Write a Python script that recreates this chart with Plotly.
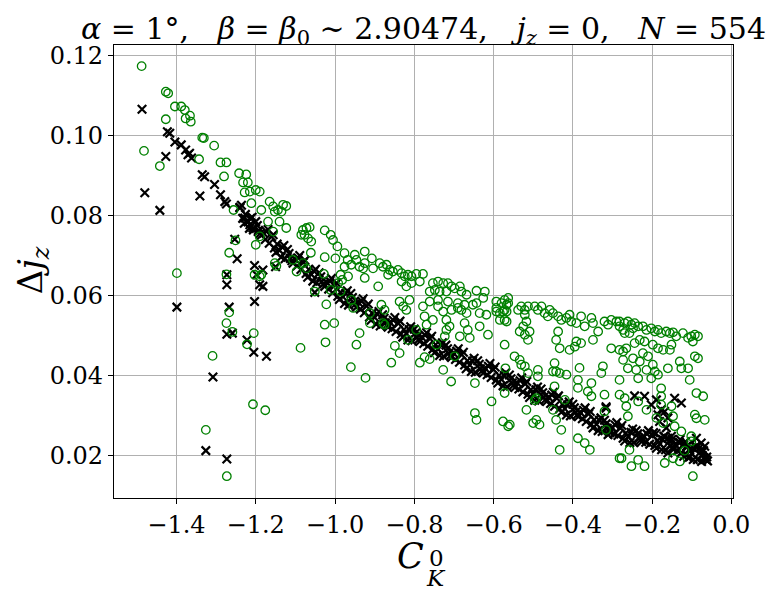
import plotly.graph_objects as go

# black crosses: dense band (read along the band) and the scattered ones
cross_band_x = [
    -1.240, -1.233, -1.226, -1.220, -1.213, -1.206, -1.200, -1.193, -1.186, -1.180, -1.173, -1.166,
    -1.160, -1.153, -1.146, -1.140, -1.133, -1.126, -1.120, -1.113, -1.106, -1.100, -1.093, -1.086,
    -1.080, -1.073, -1.066, -1.060, -1.053, -1.046, -1.040, -1.033, -1.026, -1.020, -1.013, -1.006,
    -1.000, -0.993, -0.986, -0.980, -0.973, -0.966, -0.960, -0.953, -0.946, -0.940, -0.933, -0.926,
    -0.920, -0.913, -0.906, -0.900, -0.893, -0.886, -0.880, -0.873, -0.866, -0.860, -0.853, -0.846,
    -0.840, -0.833, -0.826, -0.820, -0.813, -0.806, -0.800, -0.793, -0.786, -0.780, -0.773, -0.766,
    -0.760, -0.753, -0.746, -0.740, -0.733, -0.726, -0.720, -0.713, -0.706, -0.700, -0.693, -0.686,
    -0.680, -0.673, -0.666, -0.660, -0.653, -0.646, -0.640, -0.633, -0.626, -0.620, -0.613, -0.606,
    -0.600, -0.593, -0.586, -0.580, -0.573, -0.566, -0.560, -0.553, -0.546, -0.540, -0.533, -0.526,
    -0.520, -0.513, -0.506, -0.500, -0.493, -0.486, -0.480, -0.473, -0.466, -0.460, -0.453, -0.446,
    -0.440, -0.433, -0.426, -0.420, -0.413, -0.406, -0.400, -0.393, -0.386, -0.380, -0.373, -0.366,
    -0.360, -0.353, -0.346, -0.340, -0.333, -0.326, -0.320, -0.313, -0.306, -0.300, -0.293, -0.286,
    -0.280, -0.273, -0.266, -0.260, -0.253, -0.246, -0.240, -0.233, -0.226, -0.220, -0.213, -0.206,
    -0.200, -0.193, -0.186, -0.180, -0.173, -0.166, -0.160, -0.153, -0.146, -0.140, -0.133, -0.126,
    -0.120, -0.113, -0.106, -0.100, -0.093, -0.086, -0.080, -0.073, -0.066, -0.062, -0.060,
    -0.190, -0.170, -0.150, -0.130, -0.110, -0.090, -0.070, -0.160, -0.120, -0.085, -0.075, -0.105,
]
cross_band_y = [
    0.0821, 0.0793, 0.0803, 0.0785, 0.0793, 0.0764, 0.0785, 0.0763, 0.0751, 0.0756, 0.0760, 0.0731,
    0.0747, 0.0719, 0.0729, 0.0713, 0.0721, 0.0692, 0.0715, 0.0693, 0.0681, 0.0690, 0.0694, 0.0665,
    0.0683, 0.0655, 0.0665, 0.0653, 0.0661, 0.0632, 0.0657, 0.0635, 0.0623, 0.0632, 0.0636, 0.0607,
    0.0626, 0.0598, 0.0608, 0.0597, 0.0605, 0.0576, 0.0605, 0.0583, 0.0571, 0.0582, 0.0586, 0.0557,
    0.0574, 0.0546, 0.0556, 0.0545, 0.0553, 0.0524, 0.0552, 0.0532, 0.0521, 0.0532, 0.0538, 0.0510,
    0.0530, 0.0504, 0.0515, 0.0505, 0.0515, 0.0487, 0.0516, 0.0496, 0.0485, 0.0495, 0.0501, 0.0473,
    0.0492, 0.0466, 0.0477, 0.0466, 0.0476, 0.0448, 0.0476, 0.0456, 0.0445, 0.0455, 0.0461, 0.0433,
    0.0452, 0.0426, 0.0437, 0.0426, 0.0436, 0.0408, 0.0437, 0.0417, 0.0406, 0.0417, 0.0423, 0.0395,
    0.0415, 0.0389, 0.0400, 0.0390, 0.0400, 0.0372, 0.0401, 0.0381, 0.0370, 0.0381, 0.0387, 0.0359,
    0.0379, 0.0353, 0.0364, 0.0354, 0.0364, 0.0336, 0.0366, 0.0346, 0.0335, 0.0345, 0.0351, 0.0323,
    0.0343, 0.0317, 0.0328, 0.0317, 0.0327, 0.0299, 0.0328, 0.0308, 0.0297, 0.0307, 0.0313, 0.0285,
    0.0304, 0.0278, 0.0289, 0.0278, 0.0288, 0.0260, 0.0288, 0.0268, 0.0257, 0.0269, 0.0276, 0.0250,
    0.0268, 0.0243, 0.0256, 0.0247, 0.0258, 0.0232, 0.0262, 0.0243, 0.0234, 0.0247, 0.0254, 0.0228,
    0.0250, 0.0225, 0.0238, 0.0229, 0.0240, 0.0214, 0.0243, 0.0224, 0.0215, 0.0226, 0.0233, 0.0207,
    0.0227, 0.0202, 0.0215, 0.0205, 0.0216, 0.0190, 0.0219, 0.0200, 0.0191, 0.0196, 0.0186,
    0.0255, 0.0248, 0.0240, 0.0232, 0.0225, 0.0222, 0.0212, 0.0206, 0.0198, 0.0190, 0.0185, 0.0196,
]

# more crosses filling the band between the ones above
cross_fill_x = [
    -1.236, -1.229, -1.216, -1.209, -1.196, -1.189, -1.176, -1.169, -1.156, -1.149,
    -1.136, -1.129, -1.116, -1.109, -1.096, -1.089, -1.076, -1.069, -1.056, -1.049,
    -1.036, -1.029, -1.016, -1.009, -0.996, -0.989, -0.976, -0.969, -0.956, -0.949,
    -0.936, -0.929, -0.916, -0.909, -0.896, -0.889, -0.876, -0.869, -0.856, -0.849,
    -0.836, -0.829, -0.816, -0.809, -0.796, -0.789, -0.776, -0.769, -0.756, -0.749,
    -0.736, -0.729, -0.716, -0.709, -0.696, -0.689, -0.676, -0.669, -0.656, -0.649,
    -0.636, -0.629, -0.616, -0.609, -0.596, -0.589, -0.576, -0.569, -0.556, -0.549,
    -0.536, -0.529, -0.516, -0.509, -0.496, -0.489, -0.476, -0.469, -0.456, -0.449,
    -0.436, -0.429, -0.416, -0.409, -0.396, -0.389, -0.376, -0.369, -0.356, -0.349,
    -0.336, -0.329, -0.316, -0.309, -0.296, -0.289, -0.276, -0.269, -0.256, -0.249,
    -0.236, -0.229, -0.216, -0.209, -0.196, -0.189, -0.176, -0.169, -0.156, -0.149,
    -0.136, -0.129, -0.116, -0.109, -0.096, -0.089, -0.076, -0.069,
]
cross_fill_y = [
    0.0826, 0.0781, 0.0768, 0.0796, 0.0775, 0.0755, 0.0740, 0.0765, 0.0752, 0.0708,
    0.0696, 0.0725, 0.0705, 0.0687, 0.0674, 0.0700, 0.0688, 0.0646, 0.0636, 0.0666,
    0.0647, 0.0629, 0.0616, 0.0643, 0.0631, 0.0590, 0.0580, 0.0612, 0.0595, 0.0578,
    0.0566, 0.0592, 0.0579, 0.0538, 0.0528, 0.0560, 0.0543, 0.0527, 0.0517, 0.0545,
    0.0536, 0.0496, 0.0489, 0.0522, 0.0507, 0.0490, 0.0480, 0.0507, 0.0498, 0.0457,
    0.0450, 0.0482, 0.0467, 0.0450, 0.0440, 0.0467, 0.0458, 0.0417, 0.0410, 0.0443,
    0.0428, 0.0412, 0.0402, 0.0430, 0.0421, 0.0381, 0.0374, 0.0407, 0.0392, 0.0376,
    0.0366, 0.0394, 0.0385, 0.0345, 0.0338, 0.0371, 0.0357, 0.0340, 0.0330, 0.0358,
    0.0349, 0.0308, 0.0301, 0.0334, 0.0319, 0.0302, 0.0292, 0.0319, 0.0310, 0.0269,
    0.0262, 0.0294, 0.0279, 0.0263, 0.0254, 0.0282, 0.0275, 0.0236, 0.0232, 0.0266,
    0.0254, 0.0239, 0.0233, 0.0262, 0.0257, 0.0218, 0.0214, 0.0247, 0.0235, 0.0219,
    0.0212, 0.0240, 0.0234, 0.0194, 0.0190, 0.0223, 0.0211, 0.0194,
]

cross_loose_x = [
    -1.487, -1.423, -1.417, -1.404, -1.388, -1.377, -1.371, -1.362, -1.367, -1.427,
    -1.335, -1.329, -1.304, -1.289, -1.278, -1.274, -1.341, -1.480, -1.442, -1.240,
    -1.228, -1.219, -1.215, -1.207, -1.194, -1.253, -1.247, -1.273, -1.273, -1.203,
    -1.198, -1.203, -1.399, -1.267, -1.273, -1.259, -1.222, -1.205, -1.308, -1.326,
    -1.273, -1.190, -1.182, -1.173, -1.051, -1.182, -1.150,
    -0.244, -0.219, -0.202, -0.189, -0.177, -0.185, -0.168, -0.160, -0.143, -0.126,
    -0.181, -0.164, -0.151, -0.113, -0.088, -0.076, -0.067, -0.063, -0.316, -0.316, -0.311,
]
cross_loose_y = [
    0.1066, 0.1010, 0.1006, 0.0984, 0.0977, 0.0964, 0.0952, 0.0944, 0.0956, 0.0948,
    0.0902, 0.0897, 0.0878, 0.0852, 0.0835, 0.0829, 0.0849, 0.0857, 0.0813, 0.0819,
    0.0794, 0.0785, 0.0777, 0.0769, 0.0760, 0.0741, 0.0692, 0.0652, 0.0627, 0.0675,
    0.0652, 0.0585, 0.0571, 0.0571, 0.0503, 0.0506, 0.0489, 0.0458, 0.0396, 0.0212,
    0.0191, 0.0627, 0.0623, 0.0448, 0.0608, 0.0664, 0.0672,
    0.0349, 0.0348, 0.0327, 0.0339, 0.0314, 0.0302, 0.0310, 0.0294, 0.0343, 0.0331,
    0.0285, 0.0269, 0.0248, 0.0223, 0.0243, 0.0231, 0.0223, 0.0189, 0.0318, 0.0322, 0.0252,
]

# green open circles, left part (C_K^0 < -1.19)
circle_left_x = [
    -1.488, -1.427, -1.421, -1.404, -1.388, -1.379, -1.366, -1.377, -1.364, -1.427,
    -1.335, -1.331, -1.305, -1.482, -1.442, -1.343, -1.289, -1.274, -1.280, -1.242,
    -1.224, -1.232, -1.220, -1.200, -1.215, -1.228, -1.211, -1.256, -1.251, -1.267,
    -1.200, -1.274, -1.203, -1.399, -1.267, -1.274, -1.259, -1.205, -1.222, -1.309,
    -1.207, -1.326, -1.273,
]
circle_left_y = [
    0.1174, 0.1110, 0.1106, 0.1073, 0.1073, 0.1064, 0.1050, 0.1043, 0.1035, 0.1041,
    0.0995, 0.0994, 0.0975, 0.0962, 0.0924, 0.0941, 0.0933, 0.0933, 0.0898, 0.0906,
    0.0903, 0.0883, 0.0883, 0.0864, 0.0860, 0.0858, 0.0831, 0.0814, 0.0738, 0.0707,
    0.0727, 0.0653, 0.0652, 0.0656, 0.0558, 0.0531, 0.0509, 0.0506, 0.0478, 0.0449,
    0.0328, 0.0264, 0.0148,
]

# green, -1.19 .. -0.88
circle_mid1_x = [
    -1.190, -1.165, -1.156, -1.152, -1.144, -1.131, -1.123, -1.135, -1.186, -1.169,
    -1.140, -1.123, -1.156, -1.190, -1.081, -1.072, -1.064, -1.077, -1.068, -1.060,
    -1.085, -1.026, -1.011, -1.005, -0.994, -1.061, -1.026, -0.999, -1.106, -1.081,
    -1.072, -1.097, -1.152, -1.148, -1.186, -1.190, -0.976, -0.950, -0.946, -0.925,
    -0.907, -0.887, -0.879, -0.925, -0.938, -0.959, -0.968, -0.976, -0.904, -0.929,
    -1.028, -0.986, -0.967, -0.982, -0.992, -0.925, -0.891, -1.011, -0.986, -1.022,
    -1.026, -1.002, -1.024, -0.946, -0.938, -0.959, -0.954, -0.912, -0.883, -0.879,
    -0.912, -1.087, -0.960, -0.923, -1.176, -1.051,
]
circle_mid1_y = [
    0.0860, 0.0835, 0.0823, 0.0810, 0.0814, 0.0827, 0.0824, 0.0810, 0.0814, 0.0785,
    0.0785, 0.0769, 0.0760, 0.0748, 0.0764, 0.0769, 0.0771, 0.0752, 0.0743, 0.0735,
    0.0752, 0.0763, 0.0752, 0.0739, 0.0723, 0.0707, 0.0696, 0.0693, 0.0689, 0.0681,
    0.0668, 0.0660, 0.0681, 0.0674, 0.0652, 0.0648, 0.0706, 0.0702, 0.0689, 0.0710,
    0.0693, 0.0681, 0.0672, 0.0681, 0.0672, 0.0677, 0.0689, 0.0672, 0.0668, 0.0668,
    0.0654, 0.0652, 0.0648, 0.0639, 0.0631, 0.0644, 0.0623, 0.0614, 0.0610, 0.0578,
    0.0527, 0.0531, 0.0483, 0.0477, 0.0506, 0.0589, 0.0569, 0.0556, 0.0577, 0.0531,
    0.0531, 0.0469, 0.0421, 0.0394, 0.0313, 0.0610,
]

# green, -0.88 .. -0.56
circle_mid2_x = [
    -0.870, -0.862, -0.866, -0.854, -0.841, -0.832, -0.824, -0.816, -0.807, -0.795,
    -0.778, -0.786, -0.807, -0.820, -0.832,
    -0.753, -0.740, -0.727, -0.715, -0.706, -0.698, -0.685, -0.681, -0.668, -0.748,
    -0.761, -0.736, -0.719, -0.643, -0.622, -0.593, -0.580, -0.567, -0.563, -0.576,
    -0.593, -0.572, -0.584,
    -0.837, -0.828, -0.820, -0.812, -0.778, -0.761, -0.740, -0.727, -0.706, -0.690,
    -0.681, -0.668, -0.643, -0.635, -0.774, -0.753, -0.719, -0.711, -0.673, -0.665,
    -0.635, -0.614, -0.660, -0.685, -0.719, -0.723,
    -0.740, -0.715, -0.690, -0.673, -0.652, -0.626, -0.618, -0.593, -0.584, -0.572,
    -0.875, -0.875, -0.849, -0.837, -0.858, -0.816, -0.795, -0.769, -0.786, -0.774,
    -0.761, -0.744, -0.698, -0.727, -0.707, -0.647, -0.605, -0.647, -0.643, -0.576,
    -0.563, -0.572, -0.570, -0.572,
]
circle_mid2_y = [
    0.0677, 0.0664, 0.0652, 0.0660, 0.0664, 0.0656, 0.0648, 0.0652, 0.0648, 0.0654,
    0.0654, 0.0635, 0.0631, 0.0623, 0.0635,
    0.0631, 0.0635, 0.0631, 0.0631, 0.0623, 0.0618, 0.0623, 0.0610, 0.0602, 0.0614,
    0.0610, 0.0610, 0.0610, 0.0612, 0.0610, 0.0585, 0.0581, 0.0577, 0.0594, 0.0560,
    0.0560, 0.0539, 0.0539,
    0.0585, 0.0573, 0.0564, 0.0589, 0.0573, 0.0585, 0.0573, 0.0560, 0.0564, 0.0581,
    0.0564, 0.0556, 0.0581, 0.0556, 0.0548, 0.0539, 0.0539, 0.0523, 0.0531, 0.0514,
    0.0523, 0.0502, 0.0494, 0.0498, 0.0514, 0.0498,
    0.0589, 0.0585, 0.0569, 0.0577, 0.0577, 0.0594, 0.0552, 0.0569, 0.0556, 0.0564,
    0.0564, 0.0527, 0.0474, 0.0456, 0.0432, 0.0489, 0.0514, 0.0527, 0.0432, 0.0446,
    0.0441, 0.0477, 0.0448, 0.0414, 0.0385, 0.0381, 0.0335, 0.0306, 0.0289, 0.0285,
    0.0273, 0.0477, 0.0418, 0.0356,
]

# green, -0.57 .. -0.27
circle_mid3_x = [
    -0.572, -0.563, -0.567, -0.567, -0.538, -0.530, -0.521, -0.513, -0.521, -0.517,
    -0.525, -0.534, -0.521, -0.509, -0.513, -0.496, -0.488, -0.479, -0.471, -0.458,
    -0.463, -0.450, -0.437, -0.429, -0.416, -0.408, -0.404, -0.391, -0.379, -0.370,
    -0.353, -0.349, -0.336, -0.320, -0.311, -0.303, -0.290, -0.282, -0.273, -0.349,
    -0.379, -0.391, -0.395, -0.408, -0.433, -0.442, -0.437,
    -0.547, -0.534, -0.530, -0.521, -0.513, -0.488, -0.488, -0.446, -0.442, -0.450,
    -0.433, -0.416, -0.383, -0.387, -0.387, -0.353, -0.362, -0.353, -0.324, -0.328,
    -0.320, -0.282, -0.282, -0.273, -0.282, -0.303,
    -0.517, -0.492, -0.496, -0.446, -0.420, -0.450, -0.442, -0.492, -0.500, -0.484,
    -0.559, -0.429, -0.387, -0.370, -0.357, -0.433, -0.282, -0.320, -0.316,
]
circle_mid3_y = [
    0.0589, 0.0581, 0.0560, 0.0535, 0.0564, 0.0573, 0.0564, 0.0573, 0.0552, 0.0535,
    0.0523, 0.0510, 0.0502, 0.0510, 0.0489, 0.0573, 0.0564, 0.0573, 0.0556, 0.0564,
    0.0548, 0.0556, 0.0548, 0.0539, 0.0544, 0.0552, 0.0535, 0.0531, 0.0548, 0.0523,
    0.0544, 0.0531, 0.0510, 0.0535, 0.0527, 0.0539, 0.0535, 0.0523, 0.0514, 0.0489,
    0.0481, 0.0485, 0.0472, 0.0464, 0.0468, 0.0489, 0.0510,
    0.0448, 0.0439, 0.0427, 0.0423, 0.0406, 0.0414, 0.0398, 0.0431, 0.0410, 0.0410,
    0.0406, 0.0402, 0.0419, 0.0389, 0.0369, 0.0381, 0.0360, 0.0348, 0.0423, 0.0406,
    0.0352, 0.0352, 0.0389, 0.0439, 0.0464, 0.0468,
    0.0314, 0.0343, 0.0338, 0.0373, 0.0339, 0.0314, 0.0289, 0.0289, 0.0281, 0.0277,
    0.0277, 0.0264, 0.0243, 0.0231, 0.0214, 0.0214, 0.0193, 0.0310, 0.0264,
]

# green, right end (C_K^0 > -0.29)
circle_right_x = [
    -0.282, -0.269, -0.261, -0.252, -0.244, -0.248, -0.257, -0.269, -0.235, -0.223,
    -0.214, -0.202, -0.193, -0.185, -0.177, -0.164, -0.155, -0.147, -0.139, -0.122,
    -0.109, -0.101, -0.092, -0.084, -0.097, -0.151, -0.155, -0.172, -0.185, -0.198,
    -0.219, -0.231, -0.244, -0.265, -0.273, -0.223, -0.210, -0.231, -0.248, -0.261,
    -0.240, -0.214, -0.198, -0.193, -0.185, -0.160, -0.130, -0.126, -0.109, -0.092,
    -0.084, -0.202, -0.235,
    -0.269, -0.265, -0.261, -0.235, -0.214, -0.189, -0.177, -0.177, -0.151, -0.147,
    -0.172, -0.143, -0.126, -0.101, -0.092, -0.088, -0.067, -0.071, -0.088, -0.105,
    -0.177,
    -0.257, -0.235, -0.219, -0.168, -0.147, -0.130, -0.118, -0.101, -0.097, -0.277,
    -0.252,
]
circle_right_y = [
    0.0535, 0.0531, 0.0535, 0.0527, 0.0531, 0.0518, 0.0506, 0.0506, 0.0523, 0.0523,
    0.0514, 0.0518, 0.0510, 0.0514, 0.0506, 0.0510, 0.0506, 0.0508, 0.0498, 0.0506,
    0.0494, 0.0498, 0.0502, 0.0498, 0.0485, 0.0477, 0.0464, 0.0464, 0.0468, 0.0477,
    0.0485, 0.0489, 0.0481, 0.0468, 0.0460, 0.0456, 0.0448, 0.0435, 0.0443, 0.0418,
    0.0414, 0.0414, 0.0427, 0.0410, 0.0402, 0.0418, 0.0435, 0.0418, 0.0418, 0.0448,
    0.0443, 0.0393, 0.0393,
    0.0343, 0.0323, 0.0298, 0.0335, 0.0314, 0.0294, 0.0348, 0.0327, 0.0323, 0.0298,
    0.0281, 0.0273, 0.0260, 0.0248, 0.0302, 0.0293, 0.0289, 0.0348, 0.0356, 0.0389,
    0.0368,
    0.0214, 0.0189, 0.0173, 0.0181, 0.0193, 0.0185, 0.0212, 0.0235, 0.0148, 0.0193,
    0.0173,
]

x_ticks = [-1.4, -1.2, -1.0, -0.8, -0.6, -0.4, -0.2, 0.0]
y_ticks = [0.02, 0.04, 0.06, 0.08, 0.10, 0.12]

serif = "DejaVu Serif"
green = "#008000"

cross_x = cross_band_x + cross_fill_x + cross_loose_x
cross_y = cross_band_y + cross_fill_y + cross_loose_y
circle_x = circle_left_x + circle_mid1_x + circle_mid2_x + circle_mid3_x + circle_right_x
circle_y = circle_left_y + circle_mid1_y + circle_mid2_y + circle_mid3_y + circle_right_y

fig = go.Figure()

fig.add_trace(go.Scatter(
    x=cross_x, y=cross_y,
    mode="markers",
    marker=dict(symbol="x-thin", size=8.5, line=dict(color="black", width=2.2)),
    showlegend=False,
))

fig.add_trace(go.Scatter(
    x=circle_x, y=circle_y,
    mode="markers",
    marker=dict(symbol="circle-open", size=8.5, color=green, line=dict(color=green, width=1.3)),
    showlegend=False,
))

axis_common = dict(
    showgrid=True, gridcolor="#b0b0b0", gridwidth=0.8,
    showline=True, linecolor="black", linewidth=1.2, mirror=True,
    ticks="outside", ticklen=5, tickwidth=1, tickcolor="black",
    zeroline=False,
    tickfont=dict(family=serif, size=24, color="black"),
)

fig.update_xaxes(range=[-1.5577, 0.0043], tickvals=x_ticks, tickformat=".1f", **axis_common)
fig.update_yaxes(range=[0.00935, 0.12268], tickvals=y_ticks, tickformat=".2f", **axis_common)

nb = "\u00a0"
gap = nb * 3
title = (f"<i>α</i>{nb}={nb}1°,{gap}<i>β</i>{nb}={nb}<i>β</i><sub>0</sub>{nb}∼{nb}2.90474,"
         f"{gap}<i>j<sub>z</sub></i>{nb}={nb}0,{gap}<i>N</i>{nb}={nb}554")

fig.update_layout(
    width=774, height=596,
    margin=dict(l=114, r=41, t=45, b=98),
    paper_bgcolor="white", plot_bgcolor="white",
    title=dict(text=title, x=0.5, xref="paper", xanchor="center",
               y=0.97, yref="container", yanchor="top",
               font=dict(family=serif, size=30, color="black")),
    annotations=[
        dict(text="<i>C</i>", x=0.479, y=-0.177, xref="paper", yref="paper",
             showarrow=False, font=dict(family=serif, size=35, color="black")),
        dict(text="0", x=0.521, y=-0.165, xref="paper", yref="paper",
             showarrow=False, font=dict(family=serif, size=23, color="black")),
        dict(text="<i>K</i>", x=0.521, y=-0.209, xref="paper", yref="paper",
             showarrow=False, font=dict(family=serif, size=23, color="black")),
        dict(text="Δ<i>j<sub>z</sub></i>", x=-0.171, y=0.502, xref="paper", yref="paper",
             textangle=-90, showarrow=False, font=dict(family=serif, size=34, color="black")),
    ],
)

fig.write_html("out.html", config={"displayModeBar": False},
               post_script="document.body.style.margin='0';")
